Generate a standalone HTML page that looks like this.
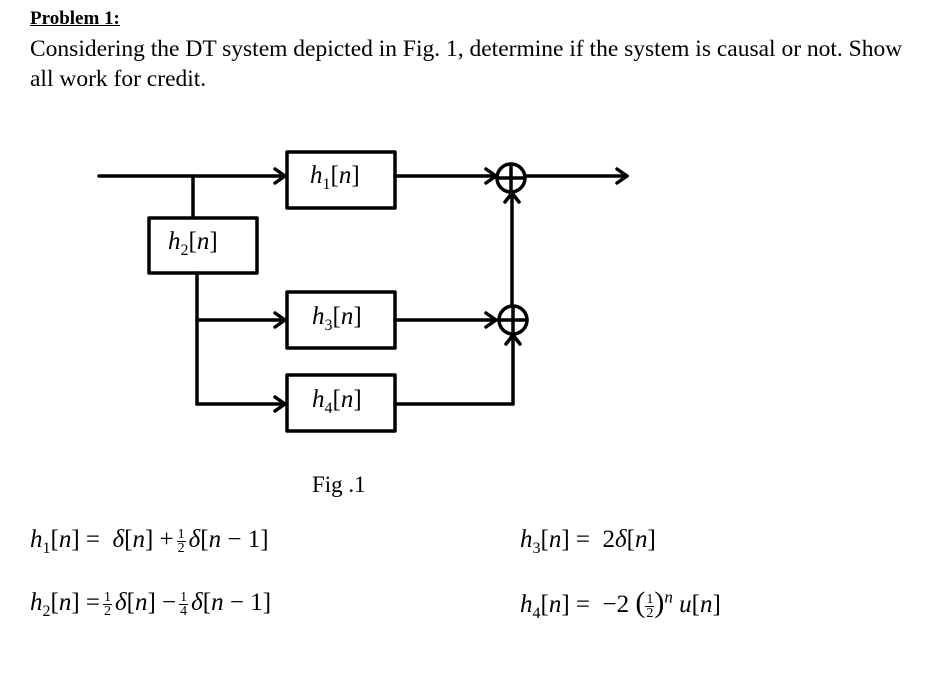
<!DOCTYPE html>
<html><head><meta charset="utf-8"><style>
body{margin:0;background:#fff;width:951px;height:685px;position:relative;overflow:hidden;font-family:"Liberation Serif",serif;color:#000}
.t{position:absolute;white-space:nowrap}
.m{font-family:"Liberation Serif",serif;font-size:25px}
.m i{font-style:italic}
.fr{display:inline-block;vertical-align:middle;text-align:center;font-size:14px;line-height:13px;margin:0 3px}
.fr span{display:block}
.fr .n{border-bottom:1px solid #000;padding:0 1px}
</style></head><body>
<div class="t" style="left:30px;top:8px;font-size:19px;font-weight:bold;text-decoration:underline">Problem 1:</div>
<div class="t" style="left:30px;top:34px;font-size:23.5px;line-height:30px">Considering the DT system depicted in Fig. 1, determine if the system is causal or not. Show<br>all work for credit.</div>
<svg width="951" height="685" style="position:absolute;left:0;top:0" xmlns="http://www.w3.org/2000/svg">
<g stroke="#000" stroke-width="3.5" fill="none" stroke-linecap="round" stroke-linejoin="round">
<line x1="99" y1="176" x2="285" y2="176"/><polyline points="275,169 285,176 275,183"/>
<line x1="193" y1="176" x2="193" y2="217"/>
<rect x="287" y="152" width="108" height="56" fill="#fff"/>
<rect x="149" y="218" width="108" height="55"/>
<rect x="287" y="292" width="108" height="56"/>
<rect x="287" y="375" width="108" height="56"/>
<line x1="197" y1="273" x2="197" y2="404"/>
<line x1="197" y1="320" x2="285" y2="320"/><polyline points="275,313 285,320 275,327"/>
<line x1="197" y1="404" x2="285" y2="404"/><polyline points="275,397 285,404 275,411"/>
<line x1="395" y1="176" x2="496" y2="176"/><polyline points="486,169 496,176 486,183"/>
<line x1="395" y1="320" x2="496" y2="320"/><polyline points="486,313 496,320 486,327"/>
<circle cx="511" cy="178" r="14"/><line x1="497" y1="178" x2="525" y2="178"/><line x1="511" y1="164" x2="511" y2="192"/>
<circle cx="513" cy="320" r="14"/><line x1="499" y1="320" x2="527" y2="320"/><line x1="513" y1="306" x2="513" y2="334"/>
<line x1="525" y1="176" x2="627" y2="176"/><polyline points="617,169 627,176 617,183"/>
<line x1="512" y1="306" x2="512" y2="194"/><polyline points="505,202 512,193 519,202"/>
<line x1="395" y1="404" x2="513" y2="404"/><line x1="513" y1="404" x2="513" y2="336"/><polyline points="506,344 513,335 520,344"/>
</g></svg>
<div class="t m" style="left:310px;top:162px"><i>h</i><sub style="font-size:16px">1</sub>[<i>n</i>]</div>
<div class="t m" style="left:168px;top:228px"><i>h</i><sub style="font-size:16px">2</sub>[<i>n</i>]</div>
<div class="t m" style="left:312px;top:303px"><i>h</i><sub style="font-size:16px">3</sub>[<i>n</i>]</div>
<div class="t m" style="left:312px;top:386px"><i>h</i><sub style="font-size:16px">4</sub>[<i>n</i>]</div>
<div class="t" style="left:312px;top:472px;font-size:23px">Fig .1</div>
<div class="t m" style="left:30px;top:526px"><i>h</i><sub style="font-size:16px">1</sub>[<i>n</i>] = &nbsp;<i>δ</i>[<i>n</i>] +<span class="fr"><span class="n">1</span><span>2</span></span><i>δ</i>[<i>n</i> − 1]</div>
<div class="t m" style="left:30px;top:589px"><i>h</i><sub style="font-size:16px">2</sub>[<i>n</i>] =<span class="fr"><span class="n">1</span><span>2</span></span><i>δ</i>[<i>n</i>] −<span class="fr"><span class="n">1</span><span>4</span></span><i>δ</i>[<i>n</i> − 1]</div>
<div class="t m" style="left:520px;top:526px"><i>h</i><sub style="font-size:16px">3</sub>[<i>n</i>] = &nbsp;2<i>δ</i>[<i>n</i>]</div>
<div class="t m" style="left:520px;top:586px"><i>h</i><sub style="font-size:16px">4</sub>[<i>n</i>] = &nbsp;−2 <span style="font-size:30px">(</span><span class="fr" style="margin:0"><span class="n">1</span><span>2</span></span><span style="font-size:30px">)</span><sup style="font-size:17px"><i>n</i></sup> <i>u</i>[<i>n</i>]</div>
</body></html>
